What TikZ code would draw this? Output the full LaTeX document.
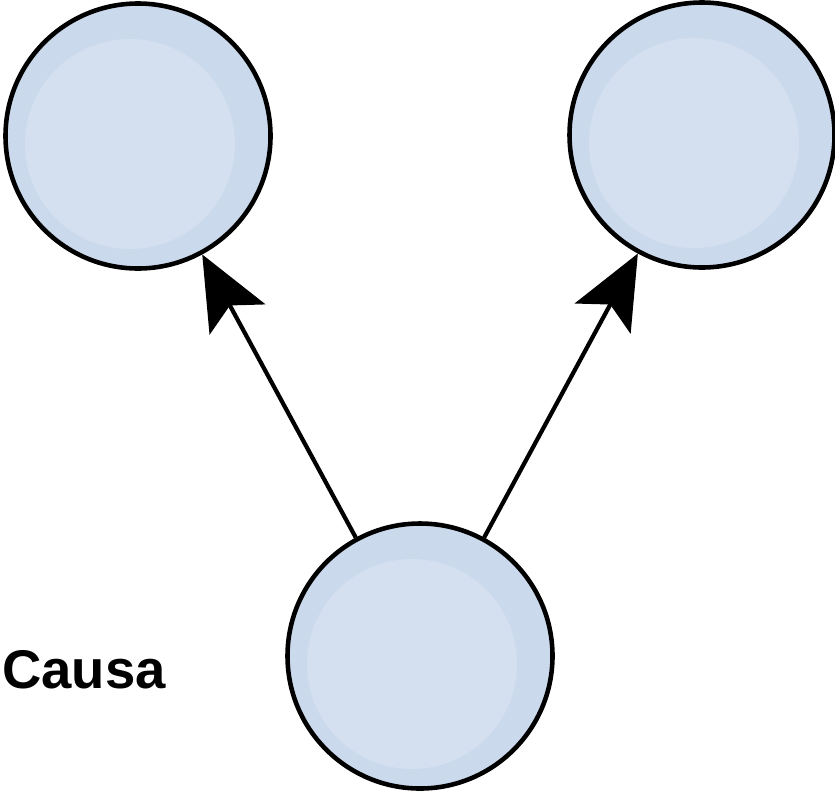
\documentclass[tikz,border=0pt]{standalone}
\usepackage{fontspec}
\usepackage{tikz}
\usetikzlibrary{arrows.meta}
\setsansfont{Liberation Sans}
\definecolor{ballblue}{RGB}{203,217,236}
\definecolor{balllight}{RGB}{212,224,240}

\begin{document}
\begin{tikzpicture}[
    ball/.style={circle, draw=black, line width=1.3pt, fill=ballblue,
        minimum size=2.65cm, inner sep=0pt,
        path picture={\fill[balllight] ([shift={(-0.08,-0.08)}]path picture bounding box.center) circle (1.05);}},
    arr/.style={line width=1.2pt, -{Stealth[length=21pt, width=18pt, inset=4.5pt]}}
]
\useasboundingbox (0,0) rectangle (8.35,-7.91);

\node[ball] (effA) at (1.38,-1.36) {};
\node[ball] (effB) at (7.02,-1.35) {};
\node[ball] (cause) at (4.20,-6.56) {};

\foreach \e in {effA,effB}
    {\draw[arr] (cause) -- (\e);}

\node[font=\fontsize{15.5}{18}\sffamily\bfseries] (causa) at (0.84,-6.70) {Causa};

\end{tikzpicture}
\end{document}
